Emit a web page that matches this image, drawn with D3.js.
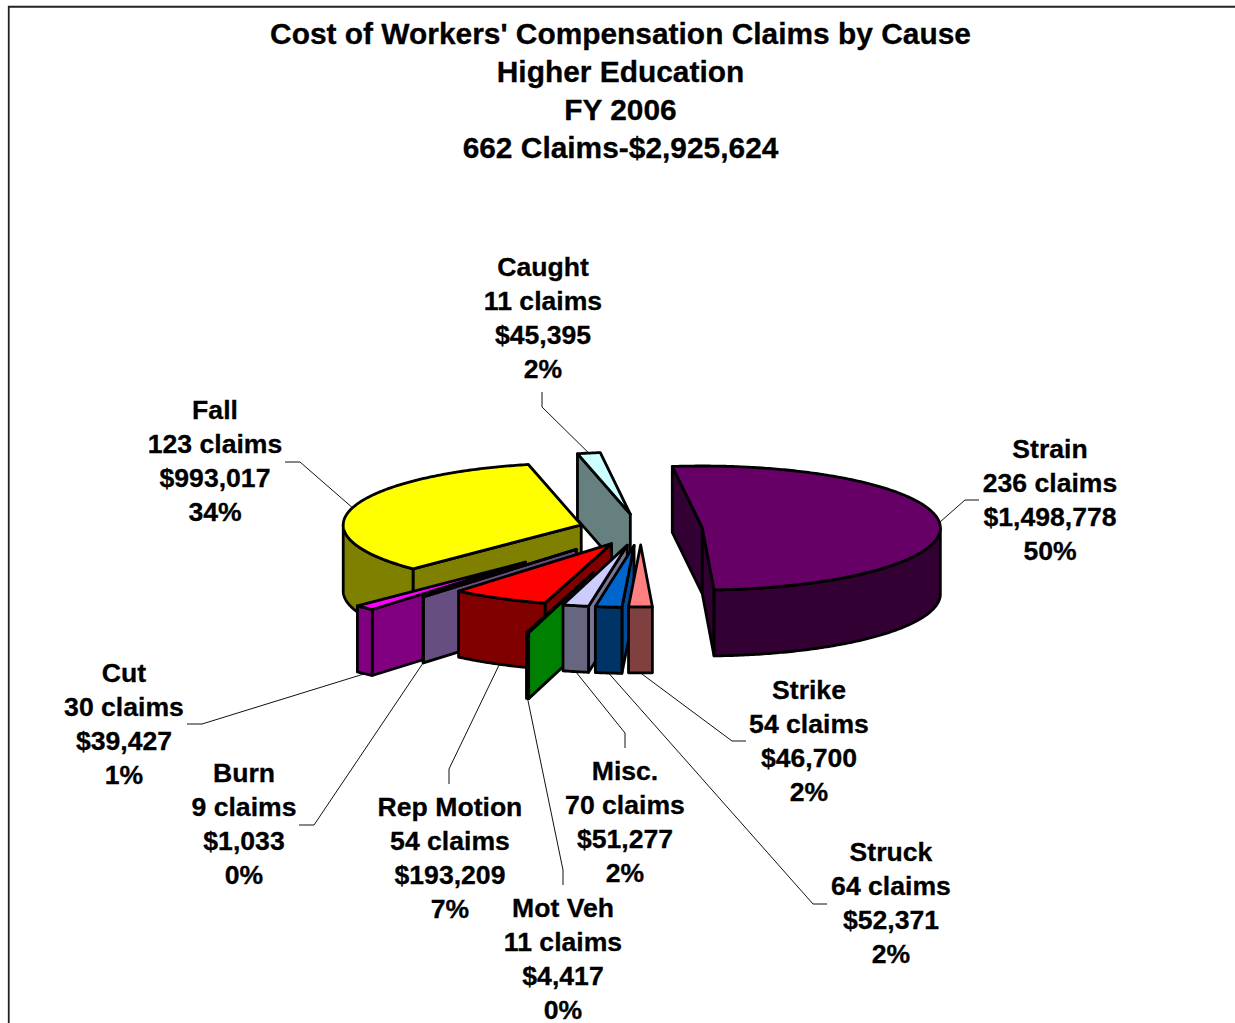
<!DOCTYPE html>
<html>
<head>
<meta charset="utf-8">
<script src="https://cdn.jsdelivr.net/npm/d3@7"></script>
<style>
  html, body { margin: 0; padding: 0; background: #fff; }
  svg { display: block; }
  text { font-family: "Liberation Sans", Arial, sans-serif; font-weight: bold; fill: #000; stroke: #000; stroke-width: 0.3px; text-anchor: middle; }
</style>
</head>
<body>
<div id="chart"></div>
<script>
// Workers' compensation claims by cause, clockwise from the Strain slice.
const causes  = ["Strain", "Strike", "Struck", "Misc.", "Mot Veh", "Rep Motion", "Burn", "Cut", "Fall", "Caught"];
const claims  = [236, 54, 64, 70, 11, 54, 9, 30, 123, 11];
const costs   = [1498778, 46700, 52371, 51277, 4417, 193209, 1033, 39427, 993017, 45395];
const percent = [50, 2, 2, 2, 0, 7, 0, 1, 34, 2];

// How far each slice is pulled out of the pie, as a share of the radius.
const explosion = [0.26, 0.25, 0.26, 0.26, 0.73, 0.26, 0.42, 0.715, 0.26, 0.25];

const titleLines = ["Cost of Workers' Compensation Claims by Cause", "Higher Education", "FY 2006", "662 Claims-$2,925,624"];

const topColors  = ["#660066", "#FF8080", "#0066CC", "#CCCCFF", "#00FF00", "#FF0000", "#CC99FF", "#FF00FF", "#FFFF00", "#CCFFFF"];
const rimColors  = ["#330033", "#804040", "#003366", "#666680", "#008000", "#800000", "#664E80", "#800080", "#808000", "#668080"];
const sideColors = ["#330033", "#804040", "#004C99", "#777795", "#008000", "#800000", "#664E80", "#800080", "#808000", "#668080"];

// Back-to-front painting order for the extruded slices.
const paintOrder = ["Caught", "Fall", "Cut", "Burn", "Rep Motion", "Mot Veh", "Misc.", "Struck", "Strike", "Strain"];

// Label centres and leader elbows for each cause.
const labelLayout = {
  "Strain":     { x: 1050, y: 458, elbow: [[965, 500], [979, 500]] },
  "Strike":     { x: 809,  y: 699, elbow: [[732, 741], [746, 741]] },
  "Struck":     { x: 891,  y: 861, elbow: [[813, 904], [827, 904]] },
  "Misc.":      { x: 625,  y: 780, elbow: [[625, 733], [625, 748]] },
  "Mot Veh":    { x: 563,  y: 917, elbow: [[563, 870], [563, 885]] },
  "Rep Motion": { x: 450,  y: 816, elbow: [[449, 769], [449, 784]] },
  "Burn":       { x: 244,  y: 782, elbow: [[314, 825], [299, 825]] },
  "Cut":        { x: 124,  y: 682, elbow: [[202, 724], [187, 724]] },
  "Fall":       { x: 215,  y: 419, elbow: [[300, 462], [285, 462]] },
  "Caught":     { x: 543,  y: 276, elbow: [[542, 407], [542, 392]] }
};

const width = 1235, height = 1023;
const centre = { x: 640.7, y: 529.4 };
const radiusX = 238, radiusY = 62, depth = 66;
const firstSliceAngle = -7.25 * Math.PI / 180;
const quarter = Math.PI / 2;

// Unit-circle coordinates onto the tilted pie plane.
const px = d3.scaleLinear().domain([-1, 1]).range([centre.x - radiusX, centre.x + radiusX]);
const py = d3.scaleLinear().domain([-1, 1]).range([centre.y + radiusY, centre.y - radiusY]);

const slices = d3.pie().sort(null).value(d => d.cost)
    .startAngle(firstSliceAngle).endAngle(firstSliceAngle + 2 * Math.PI)(
  causes.map((cause, i) => ({
    cause, claims: claims[i], cost: costs[i], percent: percent[i], explode: explosion[i],
    top: topColors[i], rim: rimColors[i], side: sideColors[i]
  }))
);

// Projected position of a point at the given angle and radius on a slice's plane.
function planePoint(s, angle, r) {
  const mid = (s.startAngle + s.endAngle) / 2;
  const ux = s.data.explode * Math.sin(mid) + r * Math.sin(angle);
  const uy = s.data.explode * Math.cos(mid) + r * Math.cos(angle);
  return [px(ux), py(uy)];
}

function arcPoints(s, a0, a1) {
  const steps = Math.max(2, Math.ceil((a1 - a0) * 90));
  return d3.range(steps + 1).map(k => planePoint(s, a0 + (a1 - a0) * k / steps, 1));
}

const drop = pts => pts.map(([x, y]) => [x, y + depth]);
const lineGen = d3.line();
const closed = pts => lineGen(pts) + "Z";

const svg = d3.select("#chart").append("svg").attr("width", width).attr("height", height);

// Chart frame, open at the page's right and bottom edges.
svg.append("path")
  .attr("d", `M8.75,${height}V6.75H${width}`)
  .attr("fill", "none").attr("stroke", "#222").attr("stroke-width", 1.8);

// Title
svg.append("g").selectAll("text").data(titleLines).join("text")
  .attr("x", 620.5)
  .attr("y", (d, i) => 44 + i * 38)
  .attr("font-size", 29.9)
  .text(d => d);

// Leader lines run from the rim at each slice's middle angle to its label.
const leaders = svg.append("g");
slices.forEach(s => {
  const mid = (s.startAngle + s.endAngle) / 2;
  const anchor = planePoint(s, mid, 1);
  const start = Math.cos(mid) < 0 ? [anchor[0], anchor[1] + depth] : anchor;
  leaders.append("path")
    .attr("d", lineGen([start, ...labelLayout[s.data.cause].elbow]))
    .attr("fill", "none").attr("stroke", "#111").attr("stroke-width", 1);
});

// Extruded slices
const slicesByName = new Map(slices.map(s => [s.data.cause, s]));
const pie3d = svg.append("g")
  .attr("stroke", "#000").attr("stroke-width", 2.8).attr("stroke-linejoin", "round");

paintOrder.forEach(name => {
  const s = slicesByName.get(name);
  const g = pie3d.append("g");
  const apex = planePoint(s, 0, 0);

  const radialWall = angle => {
    const rimPt = planePoint(s, angle, 1);
    return [apex, rimPt, [rimPt[0], rimPt[1] + depth], [apex[0], apex[1] + depth]];
  };

  if (Math.sin(s.startAngle) < 0) {
    g.append("path").attr("d", closed(radialWall(s.startAngle))).attr("fill", s.data.side);
  }
  if (Math.sin(s.endAngle) > 0) {
    g.append("path").attr("d", closed(radialWall(s.endAngle))).attr("fill", s.data.side);
  }

  // Only the part of the rim on the viewer's side of the pie is visible.
  const a0 = Math.max(s.startAngle, quarter);
  const a1 = Math.min(s.endAngle, 3 * quarter);
  if (a1 > a0) {
    const edge = arcPoints(s, a0, a1);
    g.append("path").attr("d", closed([...edge, ...drop(edge).reverse()])).attr("fill", s.data.rim);
  }

  g.append("path")
    .attr("d", closed([apex, ...arcPoints(s, s.startAngle, s.endAngle)]))
    .attr("fill", s.data.top);
});

// Data labels: cause, claim count, cost and share.
const money = d3.format("$,");
const labels = svg.append("g").attr("font-size", 26.6);
slices.forEach(s => {
  const d = s.data, at = labelLayout[d.cause];
  [d.cause, `${d.claims} claims`, money(d.cost), `${d.percent}%`].forEach((line, i) => {
    labels.append("text").attr("x", at.x).attr("y", at.y + i * 34.1).text(line);
  });
});
</script>
</body>
</html>
